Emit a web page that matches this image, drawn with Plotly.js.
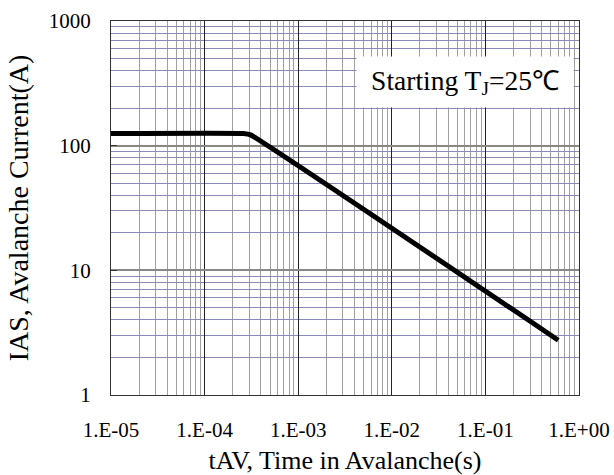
<!DOCTYPE html>
<html>
<head>
<meta charset="utf-8">
<script src="https://cdn.plot.ly/plotly-3.0.1.min.js"></script>
<style>html,body{margin:0;padding:0;background:#fff;}#chart{width:614px;height:475px;}</style>
</head>
<body>
<div id="chart"></div>
<script>
// Data
const timeAV = [1e-5, 2.6e-4, 3.1e-4, 0.6];
const currentIAS = [125, 125, 122, 2.75];

const xTickVals = [1e-5, 1e-4, 1e-3, 1e-2, 1e-1, 1];
const xTickText = ['1.E-05', '1.E-04', '1.E-03', '1.E-02', '1.E-01', '1.E+00'];
const yTickVals = [1, 10, 100, 1000];
const yTickText = ['1', '10', '100', '1000'];

const font = 'Liberation Serif';

const trace = {
  x: timeAV, y: currentIAS, type: 'scatter', mode: 'lines',
  line: {color: '#000', width: 5, shape: 'spline', smoothing: 0.3},
  hoverinfo: 'skip'
};

const layout = {
  width: 614, height: 475,
  margin: {l: 111, r: 35, t: 21, b: 80},
  paper_bgcolor: '#fff', plot_bgcolor: '#fff',
  showlegend: false,
  font: {family: font, size: 20, color: '#000'},
  xaxis: {
    type: 'log', range: [-5, 0],
    tickvals: xTickVals, ticktext: xTickText,
    tickfont: {family: font, size: 21, color: '#000'},
    ticks: '', ticklen: 0, ticklabelstandoff: 16,
    showgrid: true, gridcolor: '#222', gridwidth: 1,
    minor: {dtick: 'D1', showgrid: true, gridcolor: '#a0a0a0', gridwidth: 1, ticks: ''},
    showline: true, linecolor: '#333', linewidth: 1, mirror: true,
    zeroline: false,
    title: {text: 'tAV, Time in Avalanche(s)', font: {family: font, size: 26, color: '#000'}, standoff: 13}
  },
  yaxis: {
    type: 'log', range: [0, 3],
    tickvals: yTickVals, ticktext: yTickText,
    tickfont: {family: font, size: 21, color: '#000'},
    ticks: 'inside', ticklen: 6, tickcolor: '#333', ticklabelstandoff: 15,
    showgrid: true, gridcolor: '#888', gridwidth: 2,
    minor: {dtick: 'D1', showgrid: true, gridcolor: '#8a8ab8', gridwidth: 1, ticks: ''},
    showline: true, linecolor: '#333', linewidth: 1, mirror: true,
    zeroline: false,
    title: {text: 'IAS, Avalanche Current(A)', font: {family: font, size: 28, color: '#000'}, standoff: 11}
  },
  annotations: [{
    xref: 'paper', yref: 'paper', x: 0.756, y: 0.837,
    xanchor: 'center', yanchor: 'middle', showarrow: false,
    text: 'Starting T<sub>J</sub>=25℃',
    font: {family: font, size: 27.5, color: '#000'},
    bgcolor: '#fff', width: 212, height: 46, borderpad: 2
  }]
};

Plotly.newPlot('chart', [trace], layout, {staticPlot: true, displayModeBar: false});
</script>
</body>
</html>
